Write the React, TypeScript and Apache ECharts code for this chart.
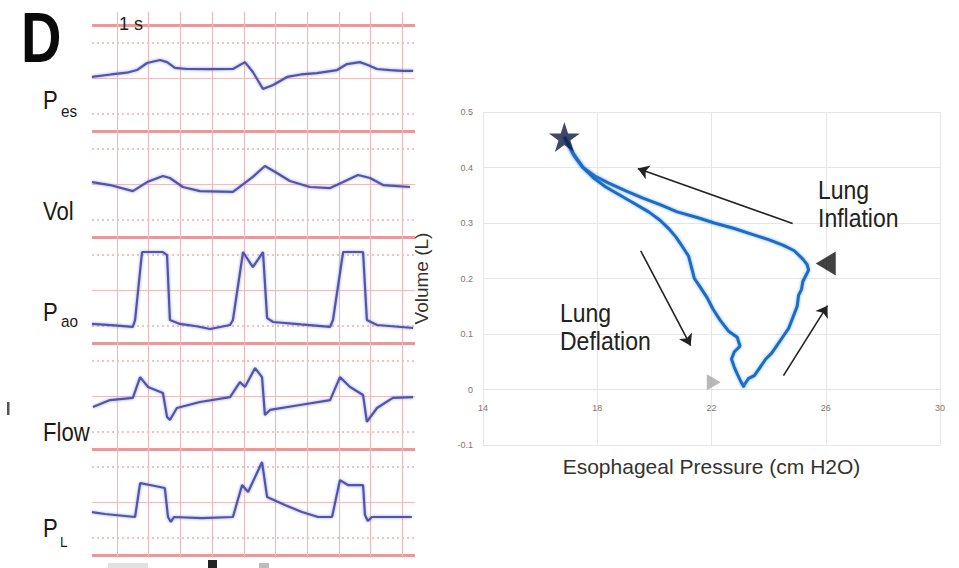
import React, { useEffect, useRef } from 'react';
import * as echarts from 'echarts';

// ---- Left panel: strip-chart traces (time in grid divisions, value in strip units 0..6, 6 = top) ----
const pesTrace = [[0, 3.06], [0.6, 3.2], [1.1, 3.3], [1.42, 3.45], [1.74, 3.85], [2.15, 4.02], [2.37, 3.9], [2.62, 3.57], [3.0, 3.51], [3.7, 3.5], [4.45, 3.51], [4.83, 3.9], [5.08, 3.34], [5.4, 2.38], [5.72, 2.6], [6.16, 3.06], [6.6, 3.2], [7.1, 3.28], [7.74, 3.45], [8.05, 3.79], [8.46, 3.9], [8.71, 3.74], [9.0, 3.51], [9.41, 3.45], [9.8, 3.4], [10.14, 3.4]];
const volTrace = [[0, 3.11], [0.57, 2.94], [1.29, 2.6], [1.74, 3.11], [2.24, 3.45], [2.46, 3.34], [2.87, 2.83], [3.41, 2.6], [4.45, 2.55], [4.83, 3.06], [5.08, 3.4], [5.46, 4.02], [5.84, 3.62], [6.25, 3.17], [6.88, 2.83], [7.52, 2.77], [7.93, 3.11], [8.4, 3.51], [8.78, 3.34], [9.19, 2.94], [10.04, 2.83]];
const paoTrace = [[0, 1.08], [0.7, 1.0], [1.29, 0.91], [1.36, 1.3], [1.58, 5.15], [2.24, 5.15], [2.37, 4.98], [2.46, 1.3], [2.78, 1.08], [3.3, 0.95], [3.73, 0.79], [4.36, 1.02], [4.45, 1.3], [4.77, 5.15], [5.08, 4.3], [5.4, 5.15], [5.53, 1.41], [5.72, 1.19], [6.6, 1.05], [7.52, 0.91], [7.61, 1.3], [7.93, 5.15], [8.56, 5.15], [8.68, 1.3], [9.0, 1.02], [10.14, 0.85]];
const flowTrace = [[0.03, 2.38], [0.57, 2.77], [1.29, 2.89], [1.52, 4.07], [1.77, 3.51], [2.24, 3.17], [2.37, 1.81], [2.46, 1.64], [2.68, 2.32], [3.41, 2.66], [4.36, 2.94], [4.67, 3.79], [4.83, 3.51], [5.15, 4.58], [5.37, 4.07], [5.46, 1.92], [5.62, 2.21], [6.57, 2.49], [7.52, 2.77], [7.83, 4.07], [8.15, 3.51], [8.56, 3.06], [8.68, 1.53], [9.0, 2.32], [9.5, 2.89], [10.14, 2.94]];
const plTrace = [[0, 2.43], [0.41, 2.32], [1.36, 2.15], [1.52, 4.07], [1.83, 3.96], [2.3, 3.79], [2.4, 2.15], [2.49, 1.87], [2.59, 2.15], [3.47, 2.09], [4.45, 2.15], [4.74, 3.96], [4.93, 3.57], [5.37, 5.26], [5.53, 3.28], [6.09, 2.83], [6.63, 2.43], [7.14, 2.15], [7.58, 2.15], [7.83, 4.24], [8.08, 3.96], [8.56, 3.96], [8.62, 2.26], [8.71, 1.92], [8.84, 2.15], [10.1, 2.15]];
const traces = [pesTrace, volTrace, paoTrace, flowTrace, plTrace];

// ---- Right panel: pressure-volume loop ----
const inflationLoop = [[23.1, 0.005], [23.3, 0.02], [23.5, 0.025], [23.7, 0.04], [23.9, 0.055], [24.1, 0.065], [24.3, 0.08], [24.5, 0.095], [24.7, 0.11], [24.85, 0.13], [25.0, 0.15], [25.05, 0.17], [25.15, 0.18], [25.2, 0.195], [25.3, 0.205], [25.4, 0.215], [25.35, 0.225], [25.2, 0.235], [24.9, 0.25], [24.5, 0.26], [24.0, 0.27], [23.4, 0.28], [22.8, 0.29], [22.1, 0.3], [21.5, 0.31], [20.8, 0.32], [20.2, 0.333], [19.6, 0.345], [19.0, 0.358], [18.4, 0.372], [17.9, 0.385], [17.5, 0.4], [17.3, 0.415], [17.1, 0.43], [16.95, 0.445], [16.85, 0.455]];
const deflationLoop = [[16.85, 0.455], [17.0, 0.44], [17.2, 0.42], [17.5, 0.4], [17.9, 0.38], [18.3, 0.365], [18.8, 0.35], [19.3, 0.335], [19.8, 0.32], [20.2, 0.305], [20.5, 0.29], [20.75, 0.275], [20.95, 0.26], [21.2, 0.24], [21.3, 0.22], [21.4, 0.2], [21.6, 0.185], [21.85, 0.165], [22.05, 0.145], [22.3, 0.125], [22.6, 0.105], [22.9, 0.094], [23.0, 0.078], [22.8, 0.068], [22.7, 0.055], [22.8, 0.04], [22.9, 0.028], [23.05, 0.012], [23.15, 0.004]];
const starPoint = [16.85, 0.455];
const endInspPoint = [26.0, 0.227];
const startPoint = [22.08, 0.013];
const arrows = [
  [24.84, 0.299, 19.42, 0.398],
  [19.52, 0.25, 21.27, 0.079],
  [24.52, 0.025, 26.06, 0.151],
];
const xTicks = { min: 14, max: 30, step: 4 };
const yTicks = { min: -0.1, max: 0.5, step: 0.1 };

const FONT = 'Liberation Sans, Arial, sans-serif';
const STAR = 'path://M0,-10L2.245,-3.09L9.51,-3.09L3.633,1.18L5.88,8.09L0,3.82L-5.88,8.09L-3.633,1.18L-9.51,-3.09L-2.245,-3.09Z';

function txt(text: string, x: number, y: number, size: number, extra: any = {}) {
  return {
    type: 'text', x, y, scaleX: extra.scaleX ?? 1, z: 10,
    style: { text, fontSize: size, fontFamily: FONT, fill: extra.fill ?? '#1a1a1a', fontWeight: extra.bold ? 'bold' : 'normal', align: extra.align ?? 'left', verticalAlign: 'middle' },
  };
}

function buildOption() {
  const traceSeries = traces.map((tr, k) => ({
    type: 'line', xAxisIndex: 1, yAxisIndex: 1, showSymbol: false, silent: true,
    data: tr.map(p => [p[0], p[1] + (4 - k) * 6]),
    lineStyle: { color: '#4f55aa', width: 2.2, shadowBlur: 3, shadowColor: 'rgba(110,120,210,0.7)' },
  }));
  const hidden = { axisLine: { show: false }, axisTick: { show: false }, axisLabel: { show: false } };
  // right grid geometry: top 112, bottom edge 445; value 0 lies 1/6 of the height above the bottom
  const rightTop = 112, rightBottomMargin = 123, rightHeight = 568 - rightTop - rightBottomMargin;
  const zeroOffset = -rightHeight * (0 - yTicks.min) / (yTicks.max - yTicks.min);
  return {
    animation: false,
    backgroundColor: '#ffffff',
    grid: [
      { left: 85.3, right: 544, top: 12, bottom: 10 },
      { left: 92, right: 544, top: 25, height: 530 },
      { left: 483, right: 19, top: rightTop, bottom: rightBottomMargin },
    ],
    xAxis: [
      { gridIndex: 0, type: 'value', min: 0, max: 10.4, interval: 1, ...hidden, splitLine: { show: true, showMinLine: false, showMaxLine: false, lineStyle: { color: '#efbcbc', width: 1.2 } } },
      { gridIndex: 1, type: 'value', min: 0, max: 10.2, ...hidden, splitLine: { show: false } },
      {
        gridIndex: 2, type: 'value', min: xTicks.min, max: xTicks.max, interval: xTicks.step,
        offset: zeroOffset,
        axisLine: { show: true, onZero: false, lineStyle: { color: '#e4e4e4' } }, axisTick: { show: false },
        axisLabel: { margin: 14, fontSize: 9, color: '#777', fontFamily: FONT },
        splitLine: { show: true, lineStyle: { color: '#e6e6e6', width: 1 } },
        name: 'Esophageal Pressure (cm H2O)', nameLocation: 'middle', nameGap: 66,
        nameTextStyle: { fontSize: 21, color: '#333', fontFamily: FONT },
      },
    ],
    yAxis: [
      { gridIndex: 0, type: 'value', min: 0, max: 1, ...hidden, splitLine: { show: false } },
      { gridIndex: 1, type: 'value', min: 0, max: 30, interval: 6, ...hidden, splitLine: { show: true, lineStyle: { color: '#e89a9a', width: 3 } } },
      { gridIndex: 1, type: 'value', min: 0, max: 30, interval: 3, position: 'left', ...hidden, splitLine: { show: true, lineStyle: { color: ['rgba(0,0,0,0)', '#f1bcbc'], width: 1.2 } } },
      { gridIndex: 1, type: 'value', min: 0, max: 30, interval: 1, position: 'left', ...hidden, splitLine: { show: true, lineStyle: { color: ['rgba(0,0,0,0)', '#eeb0b0', 'rgba(0,0,0,0)', 'rgba(0,0,0,0)', 'rgba(0,0,0,0)', '#eeb0b0'], width: 1.5, type: [2, 3] } } },
      {
        gridIndex: 2, type: 'value', min: yTicks.min, max: yTicks.max, interval: yTicks.step,
        axisLine: { show: false }, axisTick: { show: false },
        axisLabel: { margin: 10, fontSize: 9, color: '#777', fontFamily: FONT },
        splitLine: { show: true, lineStyle: { color: '#e6e6e6', width: 1 } },
        name: 'Volume (L)', nameLocation: 'middle', nameGap: 52,
        nameTextStyle: { fontSize: 19, color: '#333', fontFamily: FONT },
      },
    ],
    series: [
      ...traceSeries,
      {
        type: 'line', name: 'Inflation', xAxisIndex: 2, yAxisIndex: 4, showSymbol: false, data: inflationLoop,
        lineStyle: { color: '#1f6cc4', width: 3, shadowBlur: 3, shadowColor: 'rgba(60,140,230,0.7)' },
      },
      {
        type: 'line', name: 'Deflation', xAxisIndex: 2, yAxisIndex: 4, showSymbol: false, data: deflationLoop,
        lineStyle: { color: '#1f6cc4', width: 3, shadowBlur: 3, shadowColor: 'rgba(60,140,230,0.7)' },
      },
      {
        type: 'lines', coordinateSystem: 'cartesian2d', xAxisIndex: 2, yAxisIndex: 4,
        symbol: ['none', 'arrow'], symbolSize: 11,
        lineStyle: { color: '#222', width: 1.6, opacity: 1, curveness: 0 },
        data: arrows.map(a => ({ coords: [[a[0], a[1]], [a[2], a[3]]] })),
      },
      {
        type: 'scatter', xAxisIndex: 2, yAxisIndex: 4, symbol: STAR, symbolSize: [31, 30], z: 5,
        itemStyle: { color: '#0e1a44' }, data: [starPoint],
      },
      {
        type: 'scatter', xAxisIndex: 2, yAxisIndex: 4, symbol: 'triangle', symbolSize: [24, 20], symbolRotate: 90, z: 5,
        itemStyle: { color: '#111' }, data: [endInspPoint],
      },
      {
        type: 'scatter', xAxisIndex: 2, yAxisIndex: 4, symbol: 'triangle', symbolSize: [16, 14], symbolRotate: -90, z: 5,
        itemStyle: { color: '#a8a8a8' }, data: [startPoint],
      },
    ],
    graphic: [
      txt('D', 21, 38, 70, { bold: true, scaleX: 0.8, fill: '#0a0a0a' }),
      txt('1 s', 119, 23, 19, { scaleX: 0.95, fill: '#222' }),
      txt('P', 43, 100, 26, { scaleX: 0.85 }),
      txt('es', 61, 111, 17, { scaleX: 0.9 }),
      txt('Vol', 43, 211, 26, { scaleX: 0.85 }),
      txt('P', 43, 312, 26, { scaleX: 0.85 }),
      txt('ao', 61, 321, 17, { scaleX: 0.9 }),
      txt('Flow', 43, 432, 26, { scaleX: 0.85 }),
      txt('P', 43, 528, 26, { scaleX: 0.85 }),
      txt('L', 60, 542, 15, { scaleX: 0.9 }),
      txt('Lung', 818, 190, 25, { scaleX: 0.92, fill: '#222' }),
      txt('Inflation', 818, 218, 25, { scaleX: 0.92, fill: '#222' }),
      txt('Lung', 560, 313, 25, { scaleX: 0.92, fill: '#222' }),
      txt('Deflation', 560, 341, 25, { scaleX: 0.92, fill: '#222' }),
      { type: 'rect', shape: { x: 7, y: 402, width: 2.5, height: 13 }, style: { fill: '#555' } },
      { type: 'rect', shape: { x: 108, y: 563, width: 40, height: 5 }, style: { fill: '#e2e2e2' } },
      { type: 'rect', shape: { x: 208, y: 560, width: 9, height: 8 }, style: { fill: '#222' } },
      { type: 'rect', shape: { x: 259, y: 563, width: 10, height: 5 }, style: { fill: '#bbb' } },
    ],
  };
}

export default function App() {
  const ref = useRef<HTMLDivElement>(null);
  useEffect(() => {
    const chart = echarts.init(ref.current!, null, { renderer: 'svg' });
    chart.setOption(buildOption() as any);
    return () => chart.dispose();
  }, []);
  return <div ref={ref} style={{ position: 'absolute', left: 0, top: 0, width: 959, height: 568, background: '#fff' }} />;
}
